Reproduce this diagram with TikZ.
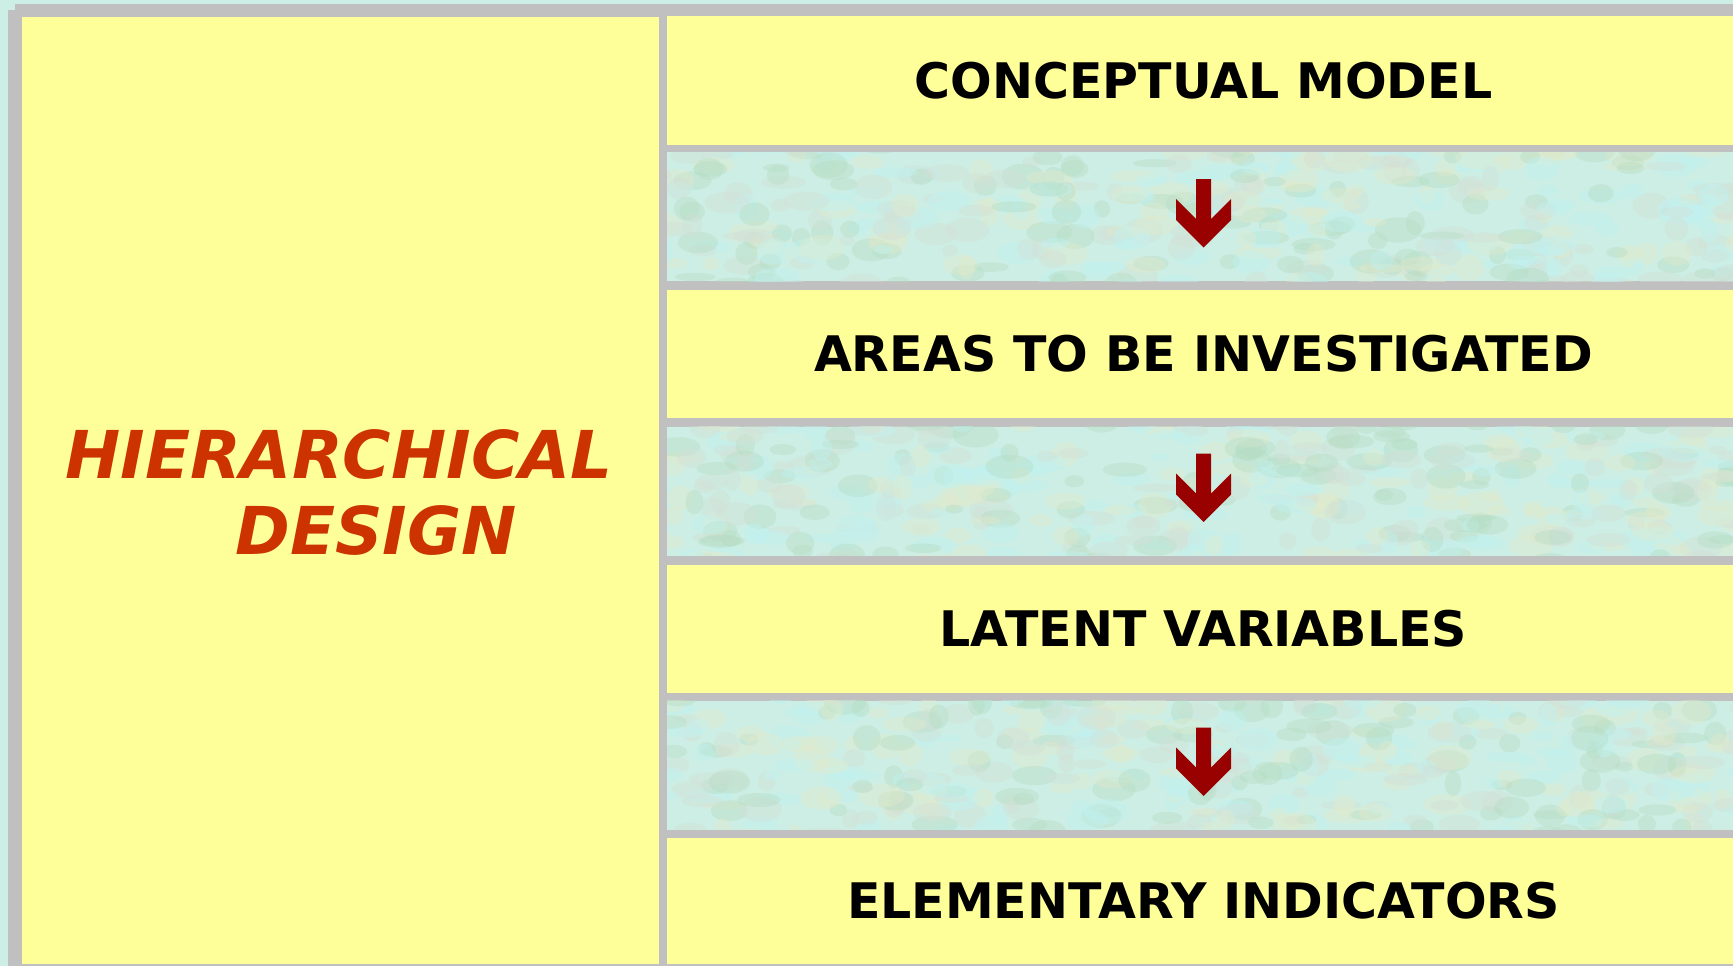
\documentclass[tikz,border=0pt]{standalone}
\usepackage{fontspec}
\setmainfont{DejaVu Sans}
\usepackage{tikz}

\definecolor{paleyellow}{HTML}{FFFF99}
\definecolor{frame}{HTML}{C0C0C0}
\definecolor{titlered}{HTML}{CC3300}
\definecolor{arrowred}{HTML}{990000}
\definecolor{marblebase}{HTML}{CDEEE4}
\definecolor{mottle0}{HTML}{B5DCC2}
\definecolor{mottle1}{HTML}{E2EACB}
\definecolor{mottle2}{HTML}{C0F2F2}
\definecolor{mottle3}{HTML}{D3DFD6}

\tikzset{
  marble/.style={fill=marblebase, inner sep=0pt,
    path picture={
      \foreach \k in {1,...,420} {
        \pgfmathtruncatemacro\c{mod(\k,4)}
        \fill[mottle\c, opacity=.4, shift={(path picture bounding box.center)}, rotate=90*rand]
          (545*rand, 70*rand) ellipse ({8+16*rnd} and {4+9*rnd});
      }
    }},
  level/.style={fill=paleyellow, inner sep=0pt, minimum width=1073pt, minimum height=128pt,
    font=\fontsize{49}{56}\selectfont\bfseries},
  gapband/.style={marble, minimum width=1073pt, minimum height=129pt},
}

\begin{document}
\begin{tikzpicture}[x=1pt, y=-1pt]
	\pgfmathsetseed{11}
	\useasboundingbox (0,0) rectangle (1733,966);
	\fill[marblebase] (0,0) rectangle (1733,966);

	% grey frame and divider
	\fill[frame] (15,4) rectangle (1733,17);
	\fill[frame] (8,10) rectangle (22,966);
	\fill[frame] (8,964) rectangle (1733,966);
	\fill[frame] (659,17) rectangle (1733,966);

	% left panel
	\node[fill=paleyellow, inner sep=0pt, minimum width=637pt, minimum height=947pt] (panel) at (340.5,490.5) {};
	\node[titlered, font=\fontsize{66}{70}\selectfont\bfseries\itshape] (hier) at (339,454) {HIERARCHICAL};
	\node[titlered, font=\fontsize{66}{70}\selectfont\bfseries\itshape] (design) at (376,530) {DESIGN};

	% levels and the bands between them
	\node[level] (model) at (1203.5,80.5) {CONCEPTUAL MODEL};
	\node[gapband] (gap1) at (1203.5,216.5) {};
	\node[level] (areas) at (1203.5,353.5) {AREAS TO BE INVESTIGATED};
	\node[gapband] (gap2) at (1203.5,491) {};
	\node[level] (latent) at (1203.5,628.5) {LATENT VARIABLES};
	\node[gapband] (gap3) at (1203.5,765) {};
	\node[level, minimum height=126pt] (indicators) at (1203.5,901) {ELEMENTARY INDICATORS};

	% down arrows
	\foreach \g in {gap1,gap2,gap3}
		\fill[arrowred, shift={(\g.center)}] (-7.5,-37.5) -- (7.5,-37.5) -- (7.5,2.5) -- (27.5,-17.5) -- (27.5,3.5)
			-- (0,31) -- (-27.5,3.5) -- (-27.5,-17.5) -- (-7.5,2.5) -- cycle;
\end{tikzpicture}
\end{document}
